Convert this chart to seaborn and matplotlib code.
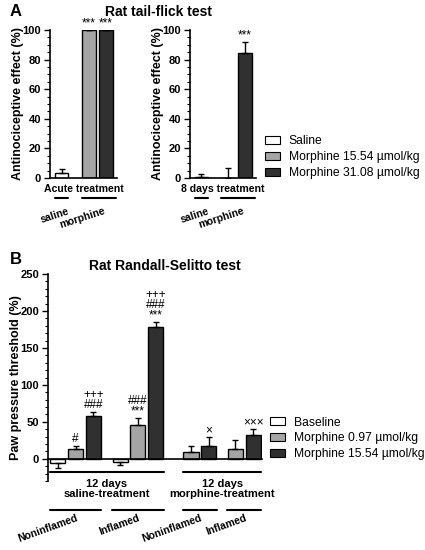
"""
Tail-flick and Randall-Selitto bar charts (panels A and B).
"""
import matplotlib
matplotlib.use("Agg")
import matplotlib.pyplot as plt
from matplotlib.patches import Patch
from matplotlib.ticker import MultipleLocator
import pandas as pd
import seaborn as sns

# Panel A: rat tail-flick test
a_doses = ["Saline", "Morphine 15.54 µmol/kg", "Morphine 31.08 µmol/kg"]
a_groups = ["saline", "morphine", "morphine"]
acute_mean = [3.5, 100.0, 100.0]
acute_sem = [2.7, 0.0, 0.0]
acute_marks = ["", "***", "***"]
chronic_mean = [1.0, 0.3, 84.5]
chronic_sem = [1.8, 6.3, 7.5]
chronic_marks = ["", "", "***"]

# Panel B: rat Randall-Selitto test
b_doses = ["Baseline", "Morphine 0.97 µmol/kg", "Morphine 15.54 µmol/kg"]
b_pretreat = ["saline"] * 6 + ["morphine"] * 4
b_state = (["Noninflamed"] * 3 + ["Inflamed"] * 3
           + ["Noninflamed"] * 2 + ["Inflamed"] * 2)
b_dose = (b_doses * 2 + b_doses[1:] * 2)
b_mean = [-5, 13, 58, -4, 46, 178, 9, 18, 13, 32]
b_sem = [7, 5, 6, 4, 9, 7, 9, 11, 12, 8]
b_marks = ["", "#", "+++\n###", "", "###\n***", "+++\n###\n***",
           "", "×", "", "×××"]

bar_colors = ["white", "#a4a4a4", "#303030"]


def layout_positions(keys, gaps):
    """Consecutive slots, with an extra gap whenever a key level changes."""
    pos, x = [], 0.0
    for i, key in enumerate(keys):
        if i > 0:
            x += 1
            for level, gap in enumerate(gaps):
                if key[level] != keys[i - 1][level]:
                    x += gap
                    break
        pos.append(x)
    return pos


def draw_bars(ax, df, doses, width):
    sns.barplot(data=df, x="pos", y="mean", hue="dose", hue_order=doses,
                palette=dict(zip(doses, bar_colors)),
                native_scale=True, dodge=False, width=width, edgecolor="black",
                linewidth=1, errorbar=None, legend=False, ax=ax)
    lower = [s if m < 0 else 0 for m, s in zip(df["mean"], df["sem"])]
    upper = [s if m >= 0 else 0 for m, s in zip(df["mean"], df["sem"])]
    ax.errorbar(df["pos"], df["mean"], yerr=[lower, upper], fmt="none",
                ecolor="black", elinewidth=1, capsize=2.5, capthick=1, zorder=3)
    for x, m, s, mark in zip(df["pos"], df["mean"], df["sem"], df["mark"]):
        if mark:
            ax.annotate(mark, xy=(x, max(m, 0) + (s if m >= 0 else 0)),
                        xytext=(0, 0.5), textcoords="offset points",
                        ha="center", va="bottom", fontsize=8.5,
                        fontweight="normal", linespacing=0.8,
                        annotation_clip=False)
    ax.set_xticks([])
    ax.set_xlabel("")
    sns.despine(ax=ax)
    ax.tick_params(axis="y", which="major", length=4, width=1, labelsize=8,
                   pad=2.5, color="black", labelcolor="black")
    ax.tick_params(axis="y", which="minor", length=2, width=0.8, color="black")
    for side in ["left", "bottom"]:
        ax.spines[side].set_linewidth(1.2)
        ax.spines[side].set_color("black")


def legend(fig, doses, x, y):
    handles = [Patch(facecolor=c, edgecolor="black", linewidth=0.8)
               for c in bar_colors]
    fig.legend(handles, doses, loc="center left", bbox_to_anchor=(x, y),
               frameon=False, borderpad=0, borderaxespad=0,
               handlelength=1.25, handleheight=0.65, handletextpad=0.7,
               labelspacing=0.32, prop={"size": 8.7, "weight": "normal"})


sns.set_style("ticks")
plt.rcParams["font.family"] = ["Liberation Sans", "DejaVu Sans"]
plt.rcParams["font.weight"] = "bold"
plt.rcParams["axes.labelweight"] = "bold"
plt.rcParams["text.color"] = "black"
plt.rcParams["axes.labelcolor"] = "black"
plt.rcParams["axes.edgecolor"] = "black"

fig = plt.figure(figsize=(4.25, 5.5), dpi=100)
W, H = 425, 550


def rect(x0, y0, x1, y1):
    return [x0 / W, 1 - y1 / H, (x1 - x0) / W, (y1 - y0) / H]


# ---- Panel A ----
a_pos = layout_positions([(g,) for g in a_groups], [0.6])
panels = [
    (rect(50, 30, 117, 178), acute_mean, acute_sem, acute_marks, "Acute treatment"),
    (rect(190, 30, 256, 178), chronic_mean, chronic_sem, chronic_marks, "8 days treatment"),
]
for box, mean, sem, marks, xlabel in panels:
    ax = fig.add_axes(box)
    df = pd.DataFrame({"pos": a_pos, "mean": mean, "sem": sem,
                       "mark": marks, "dose": a_doses, "group": a_groups})
    draw_bars(ax, df, a_doses, 0.8)
    ax.set_xlim(a_pos[0] - 0.68, a_pos[-1] + 0.66)
    ax.set_ylim(0, 100)
    ax.yaxis.set_major_locator(MultipleLocator(20))
    ax.yaxis.set_minor_locator(MultipleLocator(5))
    ax.set_ylabel("Antinociceptive effect (%)", fontsize=9, labelpad=-1)
    ax.set_xlabel(xlabel, fontsize=7.6, labelpad=4)
    trans = ax.get_xaxis_transform()
    for grp in ["saline", "morphine"]:
        xs = df.loc[df["group"] == grp, "pos"]
        x0 = xs.min() - 0.4
        x1 = xs.max() + (0.6 if grp == "morphine" else 0.4)
        ax.plot([x0, x1], [-0.135, -0.135], color="black", lw=1.5,
                transform=trans, clip_on=False)
        ax.text((xs.min() + xs.max()) / 2 + 0.35, -0.19, grp, transform=trans,
                ha="right", va="top", rotation=18, rotation_mode="anchor",
                fontsize=7.5)

legend(fig, a_doses, 265 / W, 1 - 157 / H)
fig.text(158.5 / W, 1 - 12 / H, "Rat tail-flick test", ha="center",
         va="center", fontsize=10)
fig.text(10 / W, 1 - 12 / H, "A", ha="left", va="center", fontsize=12)

# ---- Panel B ----
b_pos = layout_positions(list(zip(b_pretreat, b_state)), [1.0, 0.5])
dfb = pd.DataFrame({"pos": b_pos, "mean": b_mean, "sem": b_sem,
                    "mark": b_marks, "dose": b_dose,
                    "pretreat": b_pretreat, "state": b_state})
axb = fig.add_axes(rect(48, 274, 262, 481))
draw_bars(axb, dfb, b_doses, 0.85)
axb.set_xlim(b_pos[0] - 0.56, b_pos[-1] + 0.5)
axb.set_ylim(-30, 250)
axb.yaxis.set_major_locator(MultipleLocator(50))
axb.yaxis.set_minor_locator(MultipleLocator(10))
axb.set_yticks([0, 50, 100, 150, 200, 250])
axb.spines["bottom"].set_position(("data", 0))
axb.set_ylabel("Paw pressure threshold (%)", fontsize=9, labelpad=-1)

for pre, label in [("saline", "12 days\nsaline-treatment"),
                   ("morphine", "12 days\nmorphine-treatment")]:
    xs = dfb.loc[dfb["pretreat"] == pre, "pos"]
    x0, x1 = xs.min() - 0.45, xs.max() + 0.45
    axb.plot([x0, x1], [-17.5, -17.5], color="black", lw=1.5, clip_on=False)
    axb.annotate(label, xy=((x0 + x1) / 2, -17.5), xytext=(0, -5),
                 textcoords="offset points", ha="center", va="top",
                 fontsize=8, linespacing=1.05, annotation_clip=False)

for (pre, state), sub in dfb.groupby(["pretreat", "state"], sort=False):
    x0, x1 = sub["pos"].min() - 0.45, sub["pos"].max() + 0.45
    axb.plot([x0, x1], [-69, -69], color="black", lw=1.5, clip_on=False)
    axb.text((x0 + x1) / 2, -73, state, ha="right", va="top", rotation=20,
             rotation_mode="anchor", fontsize=7.5, clip_on=False)

legend(fig, b_doses, 270 / W, 1 - 438.5 / H)
fig.text(165 / W, 1 - 266 / H, "Rat Randall-Selitto test", ha="center",
         va="center", fontsize=10)
fig.text(10 / W, 1 - 259 / H, "B", ha="left", va="center", fontsize=12)

fig.savefig("out.png", dpi=100)
plt.close(fig)
